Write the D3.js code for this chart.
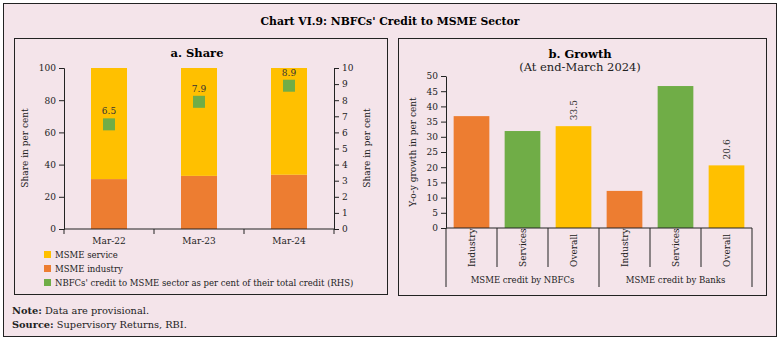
<!DOCTYPE html>
<html>
<head>
<meta charset="utf-8">
<script src="https://cdn.jsdelivr.net/npm/d3@7"></script>
<style>
  body { margin: 0; background: #fff; }
  svg { display: block; font-family: "DejaVu Serif", serif; }
</style>
</head>
<body>
<svg id="chart" width="780" height="341"></svg>
<script>
// Panel a data
const periods = ["Mar-22", "Mar-23", "Mar-24"];
const industryShare = [31, 33, 33.7];
const serviceShare = [69, 67, 66.3];
const nbfcMsmeShare = [6.5, 7.9, 8.9];

// Panel b data
const growthCats = ["Industry", "Services", "Overall", "Industry", "Services", "Overall"];
const growthGroups = ["MSME credit by NBFCs", "MSME credit by Banks"];
const growthValues = [36.8, 31.9, 33.5, 12.2, 46.7, 20.6];
const growthLabels = [null, null, "33.5", null, null, "20.6"];

const colors = { service: '#FFC000', industry: '#ED7D31', green: '#70AD47' };
const growthColors = [colors.industry, colors.green, colors.service, colors.industry, colors.green, colors.service];

const svg = d3.select('#chart');
const bg = '#F4E4EA';

// Outer frame
svg.append('rect').attr('x', 3.5).attr('y', 3.5).attr('width', 773).attr('height', 333)
  .attr('fill', bg).attr('stroke', '#222').attr('stroke-width', 1);

svg.append('text').attr('x', 390).attr('y', 25).attr('text-anchor', 'middle')
  .attr('font-size', 10.8).attr('font-weight', 'bold').text("Chart VI.9: NBFCs' Credit to MSME Sector");

// ---------- Panel a ----------
svg.append('rect').attr('x', 14.5).attr('y', 38.5).attr('width', 373).attr('height', 256)
  .attr('fill', 'none').attr('stroke', '#222');

svg.append('text').attr('x', 197).attr('y', 57).attr('text-anchor', 'middle')
  .attr('font-size', 11.5).attr('font-weight', 'bold').text('a. Share');

const ax = d3.scaleBand().domain(periods).range([64, 334]).paddingInner(0.6).paddingOuter(0.3);
const ayL = d3.scaleLinear().domain([0, 100]).range([229, 68]);
const ayR = d3.scaleLinear().domain([0, 10]).range([229, 68]);

const gA = svg.append('g');

periods.forEach((p, i) => {
  gA.append('rect').attr('x', ax(p)).attr('width', ax.bandwidth())
    .attr('y', ayL(industryShare[i])).attr('height', ayL(0) - ayL(industryShare[i]))
    .attr('fill', colors.industry);
  gA.append('rect').attr('x', ax(p)).attr('width', ax.bandwidth())
    .attr('y', ayL(industryShare[i] + serviceShare[i])).attr('height', ayL(0) - ayL(serviceShare[i]))
    .attr('fill', colors.service);
  const cx = ax(p) + ax.bandwidth() / 2;
  gA.append('rect').attr('x', cx - 6).attr('y', ayR(nbfcMsmeShare[i]) - 6)
    .attr('width', 12).attr('height', 12).attr('fill', colors.green);
  gA.append('text').attr('x', cx).attr('y', ayR(nbfcMsmeShare[i]) - 10)
    .attr('text-anchor', 'middle').attr('font-size', 9).attr('fill', '#333')
    .text(d3.format('.1f')(nbfcMsmeShare[i]));
});

function styleAxis(g) {
  g.selectAll('path, line').attr('stroke', '#222');
  g.selectAll('text').attr('font-family', '"DejaVu Serif", serif').attr('font-size', 9).attr('fill', '#222');
}

gA.append('g').attr('transform', 'translate(64,0)')
  .call(d3.axisLeft(ayL).ticks(5).tickSize(5).tickSizeOuter(5))
  .call(styleAxis);
gA.append('g').attr('transform', 'translate(334,0)')
  .call(d3.axisRight(ayR).ticks(10).tickSize(5).tickSizeOuter(5))
  .call(styleAxis);

// x axis with ticks at band boundaries
const xAxisA = gA.append('g').attr('transform', 'translate(0,229)');
xAxisA.append('line').attr('x1', 64).attr('x2', 334).attr('stroke', '#222');
d3.range(periods.length + 1).forEach(k => {
  const xx = 64 + k * ax.step() * (270 / (ax.step() * periods.length));
  xAxisA.append('line').attr('x1', xx).attr('x2', xx).attr('y1', 0).attr('y2', 5).attr('stroke', '#222');
});
periods.forEach(p => {
  xAxisA.append('text').attr('x', ax(p) + ax.bandwidth() / 2).attr('y', 15)
    .attr('text-anchor', 'middle').attr('font-size', 9).attr('fill', '#222').text(p);
});

gA.append('text').attr('transform', 'translate(28,148) rotate(-90)').attr('text-anchor', 'middle')
  .attr('font-size', 9).attr('fill', '#222').text('Share in per cent');
gA.append('text').attr('transform', 'translate(370,148) rotate(-90)').attr('text-anchor', 'middle')
  .attr('font-size', 9).attr('fill', '#222').text('Share in per cent');

const legendItems = [
  { label: 'MSME service', color: colors.service },
  { label: 'MSME industry', color: colors.industry },
  { label: "NBFCs' credit to MSME sector as per cent of their total credit (RHS)", color: colors.green }
];
legendItems.forEach((d, i) => {
  const y = 255 + i * 14;
  gA.append('rect').attr('x', 44).attr('y', y - 4).attr('width', 7).attr('height', 7).attr('fill', d.color);
  gA.append('text').attr('x', 55).attr('y', y + 3).attr('font-size', 8.5).attr('fill', '#222').text(d.label);
});

// ---------- Panel b ----------
svg.append('rect').attr('x', 398.5).attr('y', 38.5).attr('width', 368).attr('height', 257)
  .attr('fill', 'none').attr('stroke', '#222');
svg.append('text').attr('x', 580).attr('y', 58).attr('text-anchor', 'middle')
  .attr('font-size', 11.5).attr('font-weight', 'bold').text('b. Growth');
svg.append('text').attr('x', 580).attr('y', 71).attr('text-anchor', 'middle')
  .attr('font-size', 11.5).attr('fill', '#222').text('(At end-March 2024)');

const bx = d3.scaleBand().domain(d3.range(growthCats.length)).range([446, 752]).paddingInner(0.3).paddingOuter(0.15);
const by = d3.scaleLinear().domain([0, 50]).range([228, 76]);
const gB = svg.append('g');

growthValues.forEach((v, i) => {
  gB.append('rect').attr('x', bx(i)).attr('width', bx.bandwidth())
    .attr('y', by(v)).attr('height', by(0) - by(v)).attr('fill', growthColors[i]);
  if (growthLabels[i]) {
    const cx = bx(i) + bx.bandwidth() / 2;
    gB.append('text').attr('transform', `translate(${cx + 3},${by(v) - 6}) rotate(-90)`)
      .attr('font-size', 9).attr('fill', '#333').text(growthLabels[i]);
  }
});

gB.append('g').attr('transform', 'translate(446,0)')
  .call(d3.axisLeft(by).ticks(10).tickSize(5).tickSizeOuter(0))
  .call(styleAxis);

const xAxisB = gB.append('g').attr('transform', 'translate(0,228)');
xAxisB.append('line').attr('x1', 446).attr('x2', 752).attr('stroke', '#222');
const bw = 306 / growthCats.length;
d3.range(growthCats.length + 1).forEach(k => {
  const xx = 446 + k * bw;
  const major = k % 3 === 0;
  xAxisB.append('line').attr('x1', xx).attr('x2', xx).attr('y1', 0).attr('y2', major ? 59 : 39).attr('stroke', '#222');
});
growthCats.forEach((c, i) => {
  const cx = bx(i) + bx.bandwidth() / 2;
  xAxisB.append('text').attr('transform', `translate(${cx + 3},${39}) rotate(-90)`)
    .attr('font-size', 9).attr('fill', '#222').text(c);
});
growthGroups.forEach((g, j) => {
  xAxisB.append('text').attr('x', 446 + bw * 3 * j + bw * 1.5).attr('y', 55)
    .attr('text-anchor', 'middle').attr('font-size', 8.5).attr('fill', '#222').text(g);
});

gB.append('text').attr('transform', 'translate(416,152) rotate(-90)').attr('text-anchor', 'middle')
  .attr('font-size', 9).attr('fill', '#222').text('Y-o-y growth in per cent');

// Notes
svg.append('text').attr('x', 12).attr('y', 314).attr('font-size', 9.8).attr('fill', '#222')
  .html('<tspan font-weight="bold">Note:</tspan> Data are provisional.');
svg.append('text').attr('x', 12).attr('y', 328).attr('font-size', 9.8).attr('fill', '#222')
  .html('<tspan font-weight="bold">Source:</tspan> Supervisory Returns, RBI.');
</script>
</body>
</html>
